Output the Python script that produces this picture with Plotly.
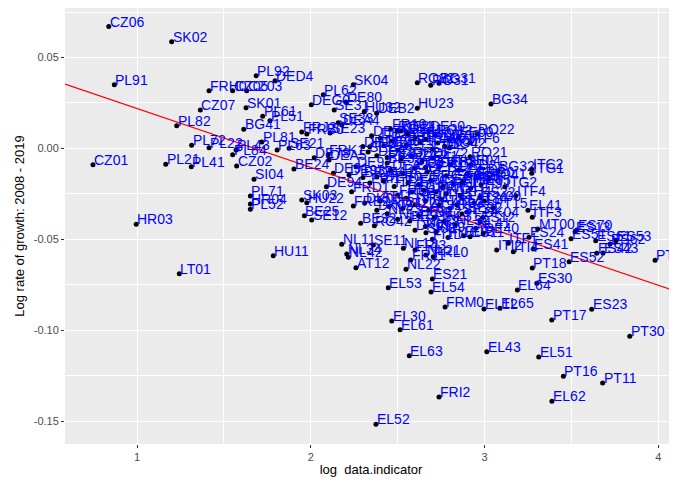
import plotly.graph_objects as go

# ---- outlying / readable regions ----
codes_a = ["CZ06","SK02","PL91","FRH0","CZ05","CZ03","PL92","DED4","CZ07","SK01",
           "PL61","PL51","BG41","PL82","PL72","PL22","PL84","PL43","PL81","CZ01",
           "PL21","PL41","CZ02","SI04","PL71","HR04","PL52","HR03","LT01","HU11"]
x_a = [0.837,1.199,0.869,1.414,1.550,1.631,1.685,1.794,1.364,1.627,
       1.723,1.765,1.614,1.228,1.314,1.414,1.550,1.570,1.718,0.746,
       1.165,1.312,1.573,1.673,1.652,1.652,1.652,0.995,1.243,1.784]
y_a = [0.0670,0.0587,0.0350,0.0317,0.0317,0.0317,0.0400,0.0372,0.0211,0.0224,
       0.0177,0.0152,0.0105,0.0125,0.0017,0.0004,-0.0035,-0.0009,0.0035,-0.0090,
       -0.0087,-0.0101,-0.0097,-0.0170,-0.0262,-0.0306,-0.0335,-0.0418,-0.0689,-0.0590]

codes_b = ["SK04","PL62","DEG0","DE80","SE31","HU32","DEB2","SE33","DEA4","FRJ2",
           "FRB0","SE23","PL63","SE21","BE24","SK03","HU22","BE25","SE12","FRE2",
           "BE32","RO42","NL11","SE11","NL34","NL42","AT12","RO32","RO31","BG31",
           "HU23","BG34","RO11","DE50","RO12","RO22","ITF6","BG42","RO21","DE60"]
x_b = [2.245,2.072,2.003,2.203,2.135,2.308,2.379,2.158,2.178,1.948,
       1.977,2.111,1.806,1.875,1.903,1.948,1.977,1.963,2.005,2.245,
       2.287,2.366,2.178,2.360,2.207,2.216,2.260,2.613,2.690,2.738,
       2.613,3.037,2.496,2.679,2.715,2.959,2.917,2.798,2.917,2.661]
y_b = [0.0350,0.0295,0.0240,0.0255,0.0211,0.0202,0.0193,0.0141,0.0129,0.0090,
       0.0079,0.0085,-0.0009,0.0001,-0.0113,-0.0284,-0.0299,-0.0370,-0.0394,-0.0317,
       -0.0412,-0.0425,-0.0528,-0.0531,-0.0581,-0.0599,-0.0656,0.0361,0.0347,0.0358,
       0.0221,0.0244,0.0096,0.0096,0.0074,0.0079,0.0031,0.0002,-0.0046,-0.0104]

codes_c = ["RO41","ITC2","ITG1","BG32","ITG2","ITF4","ES22","SE32","ES12","DE40",
           "EL41","ITF3","MT00","ES70","ES13","ES51","ES53","ES62","ES61","ES42",
           "ES43","ES52","PT18","PT20","ES24","ES41","ITI4","ITI2","ITF1","NL13",
           "FRI3","FRL0","FRJ1","NL21","NL22","SI03","ES11"]
x_c = [3.026,3.272,3.272,3.078,3.118,3.180,2.974,2.870,2.974,2.993,
       3.250,3.275,3.306,3.531,3.521,3.498,3.757,3.723,3.640,3.646,
       3.682,3.487,3.275,3.982,3.256,3.281,3.166,3.070,3.137,2.533,
       2.600,2.705,2.575,2.663,2.548,2.663,2.917]
y_c = [-0.0170,-0.0115,-0.0137,-0.0125,-0.0211,-0.0260,-0.0266,-0.0361,-0.0405,-0.0467,
       -0.0340,-0.0379,-0.0443,-0.0449,-0.0458,-0.0497,-0.0508,-0.0526,-0.0508,-0.0577,
       -0.0576,-0.0623,-0.0658,-0.0616,-0.0489,-0.0554,-0.0568,-0.0559,-0.0522,-0.0550,
       -0.0559,-0.0596,-0.0614,-0.0587,-0.0665,-0.0464,-0.0486]

codes_d = ["EL53","EL54","ES21","FRM0","EL30","EL61","EL63","FRI2","EL52","ES30",
           "EL64","EL12","EL65","PT17","ES23","PT30","EL43","EL51","PT16","PT11","EL62"]
x_d = [2.446,2.692,2.700,2.773,2.466,2.514,2.567,2.738,2.375,3.301,
       3.189,2.997,3.089,3.387,3.617,3.836,3.013,3.312,3.454,3.680,3.388]
y_d = [-0.0766,-0.0790,-0.0719,-0.0873,-0.0950,-0.0998,-0.1141,-0.1368,-0.1518,-0.0742,
       -0.0779,-0.0884,-0.0880,-0.0944,-0.0885,-0.1034,-0.1119,-0.1148,-0.1254,-0.1291,-0.1391]

# ---- dense central cluster (estimated) ----
codes_e = ["FR10","DE21","DE11","DE12","DE25","AT13","DE71","DE14","DK01","BE10",
           "DE30","LU00","IE06","EE00","LV00","LT02","DE27","SE22","HU12","DE13",
           "DE22","DE23","DE24","DE26","DE41","DE72","DE73","FRK1","DEA5","DE91",
           "DE92","DE93","DE94","DEA1","DEA2","DEA3","FI20","DEB1","DEB3","DEC0",
           "DED2","DED5","DEE0","DEF0","ITF2","FRC1","FRC2","FRD1","FRD2","FRE1"]
x_e = [2.46,2.52,2.56,2.60,2.40,2.47,2.35,2.63,2.73,2.55,
       2.42,2.66,2.80,2.85,2.77,2.70,2.30,2.33,2.34,2.50,
       2.38,2.44,2.52,2.58,2.64,2.70,2.02,2.10,2.105,2.13,
       2.26,2.22,2.09,2.38,2.46,2.53,2.60,2.67,2.74,2.78,
       2.85,2.90,2.42,2.56,2.48,2.62,2.69,2.235,2.50,2.548]
y_e = [0.0105,0.0095,0.0078,0.0060,0.0055,0.0040,0.0070,0.0035,0.0030,0.0020,
       0.0015,0.0050,0.0045,0.0060,0.0012,-0.0005,0.0010,-0.0020,0.0009,-0.0010,
       -0.0040,-0.0050,-0.0060,-0.0045,-0.0070,-0.0055,-0.0051,-0.0036,-0.0064,-0.0137,
       -0.0101,-0.0146,-0.0211,-0.0156,-0.0120,-0.0140,-0.0110,-0.0130,-0.0100,-0.0150,
       -0.0120,-0.0140,-0.0180,-0.0190,-0.0210,-0.0200,-0.0175,-0.0238,-0.0256,-0.0275]

codes_f = ["FRF1","FRF2","FRF3","FRG0","FRI1","BE34","BE35","FRK2","ITC1","ITC3",
           "ITC4","ITH3","ITH4","ITH5","ITH10","ITH20","ITI1","ITI3","AT11","AT21",
           "AT22","AT31","AT32","AT33","AT34","BE21","BE22","BE23","BE31","BE33",
           "NL12","NL23","NL31","NL32","NL33","NL41","DK02","DK03","DK04","DK05",
           "FI19","FI1B","FI1C","FI1D","IE04","IE05","CY00","PT15"]
x_f = [2.76,2.82,2.88,2.95,2.34,2.30,2.44,2.72,2.65,2.58,
       2.78,2.92,2.86,2.75,2.80,2.87,2.66,2.60,2.40,2.45,
       2.53,2.68,2.74,2.80,2.94,2.84,2.90,2.71,2.62,2.57,
       2.50,2.44,2.77,2.83,2.66,2.95,2.38,2.31,2.99,2.60,
       2.72,2.88,2.79,2.70,2.92,2.98,3.00,3.05]
y_f = [-0.0210,-0.0195,-0.0180,-0.0160,-0.0190,-0.0160,-0.0080,-0.0240,-0.0230,-0.0240,
       -0.0250,-0.0220,-0.0260,-0.0280,-0.0090,-0.0190,-0.0290,-0.0310,-0.0290,-0.0320,
       -0.0330,-0.0340,-0.0310,-0.0330,-0.0300,-0.0310,-0.0350,-0.0380,-0.0370,-0.0400,
       -0.0390,-0.0360,-0.0400,-0.0420,-0.0430,-0.0440,-0.0340,-0.0300,-0.0380,-0.0450,
       -0.0460,-0.0480,-0.0490,-0.0500,-0.0090,-0.0200,-0.0290,-0.0330]

# fitted regression line
fit_intercept = 0.0543
fit_slope = -0.0324

x_range = [0.585, 4.108]
y_range = [-0.1626, 0.0772]
x_ticks = [1, 2, 3, 4]
y_ticks = [-0.15, -0.10, -0.05, 0.00, 0.05]
y_ticktext = ["-0.15", "-0.10", "-0.05", "0.00", "0.05"]

codes = codes_a + codes_b + codes_c + codes_d + codes_e + codes_f
xs = x_a + x_b + x_c + x_d + x_e + x_f
ys = y_a + y_b + y_c + y_d + y_e + y_f

FONT = "Liberation Sans, Arial, sans-serif"

fig = go.Figure()
fig.add_trace(go.Scatter(
    x=xs, y=ys, mode="markers", text=codes,
    marker=dict(color="black", size=5),
    hoverinfo="text", showlegend=False,
))
line_x = [x_range[0], x_range[1]]
line_y = [fit_intercept + fit_slope * v for v in line_x]
fig.add_trace(go.Scatter(
    x=line_x, y=line_y, mode="lines",
    line=dict(color="#FF0000", width=1.2), showlegend=False, hoverinfo="skip",
))

annotations = [
    dict(x=xv, y=yv, xref="x", yref="y", text=c, showarrow=False,
         xanchor="left", yanchor="bottom", xshift=-1, yshift=-5,
         font=dict(family=FONT, size=14, color="#0000FF"))
    for c, xv, yv in zip(codes, xs, ys)
]

axis_common = dict(
    showgrid=True, gridcolor="white", gridwidth=1.2, zeroline=False,
    ticks="outside", ticklen=3, tickcolor="#333333", tickwidth=1,
    tickfont=dict(family=FONT, size=11, color="#4D4D4D"),
    showline=False,
)
# note: the page body adds an 8px offset, margins compensate for it
fig.update_layout(
    width=677, height=482,
    margin=dict(l=57, r=8, t=0, b=46),
    paper_bgcolor="white", plot_bgcolor="#EBEBEB",
    font=dict(family=FONT),
    annotations=annotations,
    xaxis=dict(axis_common, range=x_range, tickvals=x_ticks,
               minor=dict(dtick=0.5, tick0=0.5, showgrid=True, gridcolor="white", gridwidth=0.6, ticklen=0),
               title=dict(text="log\u00a0 data.indicator", font=dict(size=13, color="black"), standoff=2)),
    yaxis=dict(axis_common, range=y_range, tickvals=y_ticks, ticktext=y_ticktext,
               minor=dict(dtick=0.025, tick0=0.025, showgrid=True, gridcolor="white", gridwidth=0.6, ticklen=0),
               title=dict(text="Log rate of growth: 2008 - 2019", font=dict(size=13, color="black"), standoff=6)),
)
fig.write_html("out.html")
